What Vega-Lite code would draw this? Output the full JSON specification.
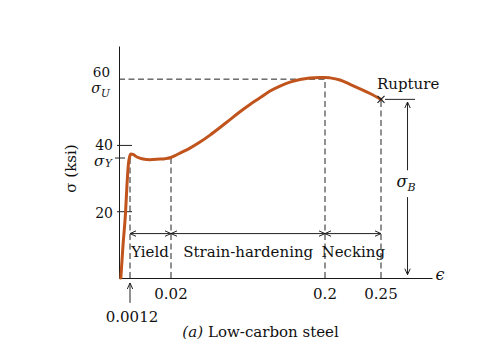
{
  "$schema": "https://vega.github.io/schema/vega-lite/v6.json",
  "width": 313,
  "height": 232,
  "autosize": "none",
  "padding": {"left": 119, "top": 46, "right": 54, "bottom": 84},
  "background": "white",
  "config": {
    "view": {"stroke": null},
    "axis": {"domainColor": "#1a1a1a", "domainWidth": 1, "grid": false, "ticks": false, "labels": false, "titleFont": "DejaVu Serif", "titleFontSize": 15, "titleFontWeight": "normal", "titleColor": "#111"},
    "text": {"font": "DejaVu Serif", "fontSize": 15, "color": "#111"}
  },
  "encoding": {
    "x": {"field": "e", "type": "quantitative", "scale": {"domain": [0, 0.0012, 0.02, 0.2, 0.25, 0.32], "range": [0, 11, 52, 206, 262, 313], "zero": false, "nice": false}, "axis": {"title": null}},
    "y": {"field": "s", "type": "quantitative", "scale": {"domain": [0, 70], "zero": false, "nice": false}, "axis": {"title": "σ (ksi)", "titlePadding": 41, "titleY": 122}}
  },
  "layer": [
    {
      "data": {"values": [
        {"e": 0, "e2": 0.2, "s": 60, "s2": 60},
        {"e": 0.0012, "e2": 0.0012, "s": 0, "s2": 36.4},
        {"e": 0.02, "e2": 0.02, "s": 0, "s2": 36.3},
        {"e": 0.2, "e2": 0.2, "s": 0, "s2": 60.5},
        {"e": 0.25, "e2": 0.25, "s": 0, "s2": 53.9}
      ]},
      "mark": {"type": "rule", "color": "#222", "strokeWidth": 1, "strokeDash": [6, 3.5]},
      "encoding": {"x2": {"field": "e2"}, "y2": {"field": "s2"}}
    },
    {
      "data": {"values": [
        {"e": 0, "e2": 0, "s": 40, "s2": 40},
        {"e": 0, "e2": 0, "s": 20, "s2": 20}
      ]},
      "mark": {"type": "rule", "color": "#222", "strokeWidth": 1, "xOffset": -2, "x2Offset": 13},
      "encoding": {"x2": {"field": "e2"}, "y2": {"field": "s2"}}
    },
    {
      "data": {"values": [
        {"e": 0, "e2": 0, "s": 36.2, "s2": 36.2}
      ]},
      "mark": {"type": "rule", "color": "#222", "strokeWidth": 1, "xOffset": -4, "x2Offset": 6},
      "encoding": {"x2": {"field": "e2"}, "y2": {"field": "s2"}}
    },
    {
      "data": {"values": [
        {"e": 0.0002, "s": 0},
        {"e": 0.00044, "s": 9.96},
        {"e": 0.00071, "s": 19.6},
        {"e": 0.00087, "s": 28.1},
        {"e": 0.00104, "s": 34.7},
        {"e": 0.00115, "s": 36.5},
        {"e": 0.00166, "s": 37.4},
        {"e": 0.00258, "s": 37.3},
        {"e": 0.00441, "s": 36.5},
        {"e": 0.00716, "s": 35.9},
        {"e": 0.01037, "s": 35.7},
        {"e": 0.01496, "s": 35.9},
        {"e": 0.01725, "s": 36.0},
        {"e": 0.02, "s": 36.36},
        {"e": 0.02468, "s": 36.93},
        {"e": 0.03052, "s": 37.69},
        {"e": 0.04221, "s": 39.2},
        {"e": 0.0539, "s": 41.01},
        {"e": 0.06558, "s": 43.12},
        {"e": 0.07727, "s": 45.41},
        {"e": 0.08896, "s": 47.8},
        {"e": 0.10065, "s": 50.18},
        {"e": 0.11234, "s": 52.38},
        {"e": 0.12402, "s": 54.35},
        {"e": 0.13571, "s": 56.4},
        {"e": 0.1474, "s": 57.91},
        {"e": 0.15909, "s": 59.08},
        {"e": 0.17078, "s": 59.87},
        {"e": 0.18246, "s": 60.32},
        {"e": 0.19415, "s": 60.5},
        {"e": 0.2, "s": 60.53},
        {"e": 0.20447, "s": 60.38},
        {"e": 0.2134, "s": 59.75},
        {"e": 0.22233, "s": 58.45},
        {"e": 0.23126, "s": 57.09},
        {"e": 0.24019, "s": 55.67},
        {"e": 0.25, "s": 53.9}
      ]},
      "mark": {"type": "line", "color": "#c1541c", "strokeWidth": 3, "strokeCap": "round", "interpolate": "monotone"}
    },
    {
      "data": {"values": [
        {"e": 0.0012, "e2": 0.02, "s": 13.4, "s2": 13.4},
        {"e": 0.02, "e2": 0.2, "s": 13.4, "s2": 13.4},
        {"e": 0.2, "e2": 0.25, "s": 13.4, "s2": 13.4},
        {"e": 0.2864, "e2": 0.2864, "s": 53.1, "s2": 32.5},
        {"e": 0.2864, "e2": 0.2864, "s": 24.4, "s2": 1.0},
        {"e": 0.2555, "e2": 0.2967, "s": 53.9, "s2": 53.9},
        {"e": 0.0012, "e2": 0.0012, "s": -1.5, "s2": -7.5}
      ]},
      "mark": {"type": "rule", "color": "#222", "strokeWidth": 1},
      "encoding": {"x2": {"field": "e2"}, "y2": {"field": "s2"}}
    },
    {
      "data": {"values": [
        {"e": 0.0012, "s": 13.4, "d": "l"},
        {"e": 0.02, "s": 13.4, "d": "r"},
        {"e": 0.02, "s": 13.4, "d": "l"},
        {"e": 0.2, "s": 13.4, "d": "r"},
        {"e": 0.2, "s": 13.4, "d": "l"},
        {"e": 0.25, "s": 13.4, "d": "r"},
        {"e": 0.2864, "s": 53.1, "d": "u"},
        {"e": 0.2864, "s": 1.0, "d": "d"},
        {"e": 0.0012, "s": -1.5, "d": "u"}
      ]},
      "mark": {"type": "point", "filled": false, "stroke": "#222", "strokeWidth": 1, "size": 144, "opacity": 1},
      "encoding": {
        "shape": {"field": "d", "type": "nominal", "legend": null, "scale": {"domain": ["r", "l", "u", "d"], "range": ["M -1 -0.45 L 0 0 L -1 0.45", "M 1 -0.45 L 0 0 L 1 0.45", "M -0.45 1 L 0 0 L 0.45 1", "M -0.45 -1 L 0 0 L 0.45 -1"]}}
      }
    },
    {
      "data": {"values": [{"e": 0.25, "s": 53.9}]},
      "mark": {"type": "point", "filled": false, "stroke": "#222", "strokeWidth": 1.2, "size": 49, "opacity": 1, "shape": "M -1 -1 L 1 1 M -1 1 L 1 -1"}
    },
    {
      "data": {"values": [
        {"t": "Yield", "e": 0.01037, "s": 6.2},
        {"t": "Strain-hardening", "e": 0.1103, "s": 6.2},
        {"t": "Necking", "e": 0.2253, "s": 6.2}
      ]},
      "mark": {"type": "text", "align": "center", "baseline": "alphabetic"},
      "encoding": {"text": {"field": "t"}}
    },
    {
      "data": {"values": [{"t": "Rupture", "e": 0.2464, "s": 56.9}]},
      "mark": {"type": "text", "align": "left", "baseline": "alphabetic"},
      "encoding": {"text": {"field": "t"}}
    },
    {
      "data": {"values": [
        {"t": "0.02", "e": 0.02, "s": 0},
        {"t": "0.2", "e": 0.2, "s": 0},
        {"t": "0.25", "e": 0.25, "s": 0}
      ]},
      "mark": {"type": "text", "align": "center", "baseline": "middle", "dy": 16},
      "encoding": {"text": {"field": "t"}}
    },
    {
      "data": {"values": [{"t": "0.0012", "e": 0.0012, "s": 0}]},
      "mark": {"type": "text", "align": "center", "baseline": "middle", "dx": 2, "dy": 38.5},
      "encoding": {"text": {"field": "t"}}
    },
    {
      "data": {"values": [{"t": "60", "e": 0, "s": 60}]},
      "mark": {"type": "text", "align": "right", "baseline": "middle", "fontSize": 13.5, "dx": -9, "dy": -6},
      "encoding": {"text": {"field": "t"}}
    },
    {
      "data": {"values": [{"t": "40", "e": 0, "s": 40}]},
      "mark": {"type": "text", "align": "right", "baseline": "middle", "fontSize": 14, "dx": -6, "dy": 0.5},
      "encoding": {"text": {"field": "t"}}
    },
    {
      "data": {"values": [{"t": "20", "e": 0, "s": 20}]},
      "mark": {"type": "text", "align": "right", "baseline": "middle", "fontSize": 14, "dx": -6, "dy": 2},
      "encoding": {"text": {"field": "t"}}
    },
    {
      "data": {"values": [{"t": "σ", "e": 0, "s": 60}]},
      "mark": {"type": "text", "align": "center", "baseline": "middle", "fontStyle": "italic", "fontSize": 14, "dx": -23, "dy": 10},
      "encoding": {"text": {"field": "t"}}
    },
    {
      "data": {"values": [{"t": "U", "e": 0, "s": 60}]},
      "mark": {"type": "text", "align": "center", "baseline": "middle", "fontStyle": "italic", "fontSize": 10.5, "dx": -13.5, "dy": 14.5},
      "encoding": {"text": {"field": "t"}}
    },
    {
      "data": {"values": [{"t": "σ", "e": 0, "s": 36.2}]},
      "mark": {"type": "text", "align": "center", "baseline": "middle", "fontStyle": "italic", "fontSize": 15, "dx": -20, "dy": 2.5},
      "encoding": {"text": {"field": "t"}}
    },
    {
      "data": {"values": [{"t": "Y", "e": 0, "s": 36.2}]},
      "mark": {"type": "text", "align": "center", "baseline": "middle", "fontStyle": "italic", "fontSize": 10.5, "dx": -10.5, "dy": 5.5},
      "encoding": {"text": {"field": "t"}}
    },
    {
      "data": {"values": [{"t": "σ", "e": 0.2864, "s": 28}]},
      "mark": {"type": "text", "align": "center", "baseline": "middle", "fontStyle": "italic", "fontSize": 16, "dx": -5.5, "dy": -2.8},
      "encoding": {"text": {"field": "t"}}
    },
    {
      "data": {"values": [{"t": "B", "e": 0.2864, "s": 28}]},
      "mark": {"type": "text", "align": "center", "baseline": "middle", "fontStyle": "italic", "fontSize": 11, "dx": 4, "dy": 2.5},
      "encoding": {"text": {"field": "t"}}
    },
    {
      "data": {"values": [{"t": "ϵ", "e": 0.32, "s": 0}]},
      "mark": {"type": "text", "align": "center", "baseline": "middle", "fontStyle": "italic", "fontSize": 16, "dx": 8, "dy": -2.6},
      "encoding": {"text": {"field": "t"}}
    },
    {
      "data": {"values": [{"t": "(a)", "e": 0.06325, "s": -17.8}]},
      "mark": {"type": "text", "align": "right", "baseline": "alphabetic", "fontStyle": "italic", "dx": -5},
      "encoding": {"text": {"field": "t"}}
    },
    {
      "data": {"values": [{"t": "Low-carbon steel", "e": 0.06325, "s": -17.8}]},
      "mark": {"type": "text", "align": "left", "baseline": "alphabetic"},
      "encoding": {"text": {"field": "t"}}
    }
  ]
}
